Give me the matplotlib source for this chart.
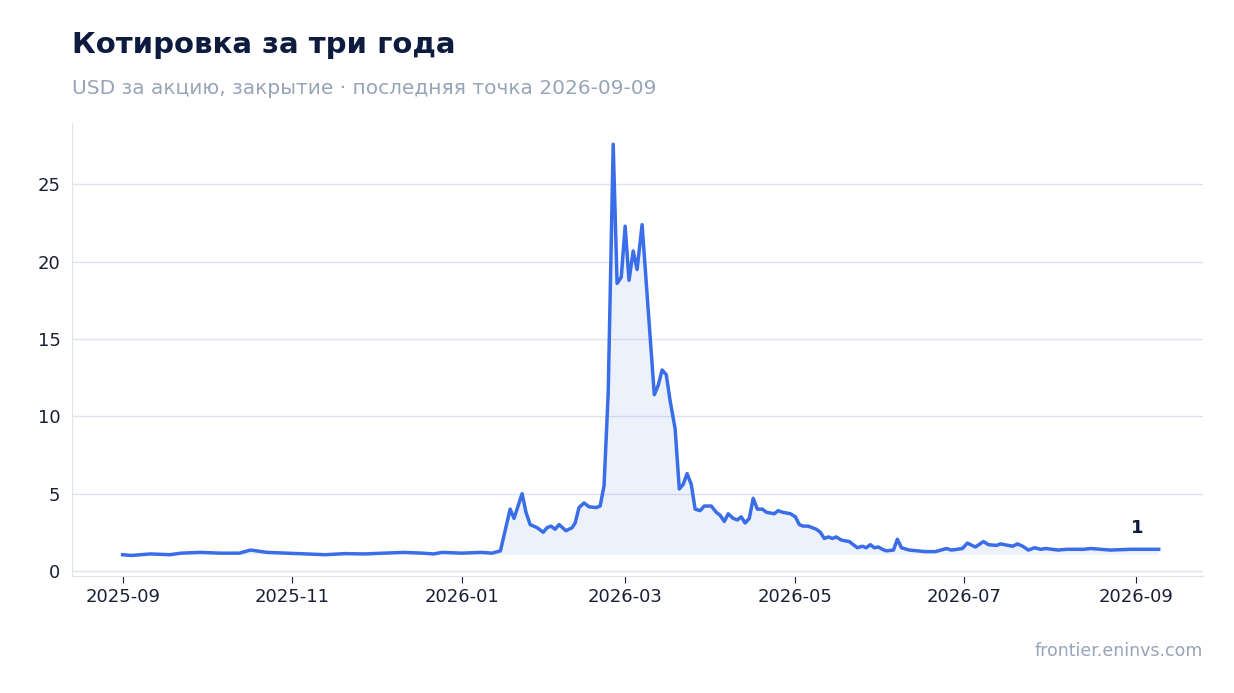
import numpy as np
import pandas as pd
from matplotlib import pyplot as plt
import matplotlib.dates as mdates

start = pd.Timestamp("2025-09-01")
# days since 2025-09-01
days = [0, 3, 10, 17, 21, 28, 35, 42, 46, 52, 59, 66, 73, 80, 87, 94, 101, 108, 112, 115, 122, 129, 133, 136,
        139.5, 140.9, 143.8, 145.2, 146.7, 149.2, 151.4, 152.8, 154.2, 155.7, 157.1, 159.6, 161.8, 162.9,
        164.3, 166.1, 167.9, 170.5, 171.9, 173.3, 174.8, 176.6, 178.0, 179.5, 180.9, 182.3, 183.8, 185.2,
        187.0, 191.4, 192.8, 194.2, 195.7, 197.1, 198.9, 200.4, 201.8, 203.2, 204.7, 206.1, 207.9, 209.4,
        211.9, 213.7, 215.1, 216.6, 218.0, 219.8, 221.3, 222.7, 224.1, 225.6, 227.0, 228.5, 230.3, 231.7,
        234.6, 236.0, 237.5, 240.4, 242.2, 243.6, 245.0, 246.8, 249.7, 251.2, 252.6, 254.1, 255.5, 256.9,
        258.7, 261.6, 264.5, 266.3, 267.7, 269.2, 270.6, 272.1, 273.5, 274.9, 277.5, 278.9, 280.4, 283.2,
        289.0, 292.6, 296.6, 298.4, 302.3, 304.1, 307.0, 309.9, 311.7, 314.6, 316.0, 320.4, 322.2, 324.0,
        326.1, 328.3, 330.5, 332.3, 336.9, 339.8, 345.9, 348.5, 355.7, 362.9, 373]
prices = [1.05, 1.0, 1.1, 1.05, 1.15, 1.2, 1.15, 1.15, 1.35, 1.2, 1.15, 1.1, 1.05, 1.12, 1.1, 1.15, 1.2, 1.15,
          1.1, 1.2, 1.15, 1.2, 1.15, 1.3,
          4.0, 3.4, 5.0, 3.8, 3.0, 2.8, 2.5, 2.8, 2.9, 2.7, 3.0, 2.6, 2.8, 3.1,
          4.1, 4.4, 4.15, 4.1, 4.2, 5.5, 11.5, 27.6, 18.6, 19.0, 22.3, 18.8, 20.7, 19.5,
          22.4, 11.4, 12.0, 13.0, 12.7, 11.0, 9.2, 5.3, 5.6, 6.3, 5.6, 4.0, 3.9, 4.2,
          4.2, 3.8, 3.6, 3.2, 3.7, 3.4, 3.3, 3.5, 3.1, 3.4, 4.7, 4.0, 4.0, 3.8,
          3.7, 3.9, 3.8, 3.7, 3.5, 3.0, 2.9, 2.9, 2.7, 2.5, 2.1, 2.2, 2.1, 2.2,
          2.0, 1.9, 1.5, 1.6, 1.5, 1.7, 1.5, 1.55, 1.4, 1.3, 1.35, 2.05, 1.5, 1.35,
          1.25, 1.25, 1.45, 1.35, 1.45, 1.8, 1.55, 1.9, 1.7, 1.65, 1.75, 1.6, 1.75, 1.6,
          1.35, 1.5, 1.4, 1.45, 1.35, 1.4, 1.4, 1.45, 1.35, 1.4, 1.4]
tick_dates = ["2025-09-01", "2025-11-01", "2026-01-01", "2026-03-01", "2026-05-01", "2026-07-01", "2026-09-01"]
tick_labels = ["2025-09", "2025-11", "2026-01", "2026-03", "2026-05", "2026-07", "2026-09"]

dates = start + pd.to_timedelta(days, unit="D")
y = np.array(prices)

fig = plt.figure(figsize=(12.34, 6.93), dpi=100)
ax = fig.add_axes([0.058, 0.169, 0.917, 0.654])
line_c = "#3a6ee8"
ax.plot(dates, y, color=line_c, lw=2.5, zorder=3)
ax.fill_between(dates, y, y[0], where=y >= y[0], color=line_c, alpha=0.09, lw=0, interpolate=True)

ax.set_xlim(start - pd.Timedelta(days=18.4), start + pd.Timedelta(days=389))
ax.set_ylim(-0.32, 29)
ax.set_yticks([0, 5, 10, 15, 20, 25])
ax.set_xticks(pd.to_datetime(tick_dates))
ax.set_xticklabels(tick_labels)
ax.grid(axis="y", color="#dfe3ec", lw=1)
ax.set_axisbelow(True)
for s in ["top", "right"]:
    ax.spines[s].set_visible(False)
for s in ["left", "bottom"]:
    ax.spines[s].set_color("#dfe3ec")
ax.tick_params(axis="both", labelsize=13, colors="#1a1f36", length=5)
ax.tick_params(axis="y", length=0, pad=8)
ax.tick_params(axis="x", color="#1a1f36", labelcolor="#1a1f36")

ax.annotate(f"{y[-1]:.0f}", (dates[-1], y[-1]), xytext=(-20, 12), textcoords="offset points",
            fontsize=13, fontweight="bold", color="#0d1b3e")

fig.text(0.058, 0.935, "Котировка за три года", fontsize=21, fontweight="bold", color="#0d1b3e", va="center")
fig.text(0.058, 0.873, "USD за акцию, закрытие · последняя точка 2026-09-09", fontsize=14.5,
         color="#98a4b8", va="center")
fig.text(0.975, 0.06, "frontier.eninvs.com", fontsize=12.5, color="#98a4b8", ha="right", va="center")

fig.savefig("out.png", dpi=100)
